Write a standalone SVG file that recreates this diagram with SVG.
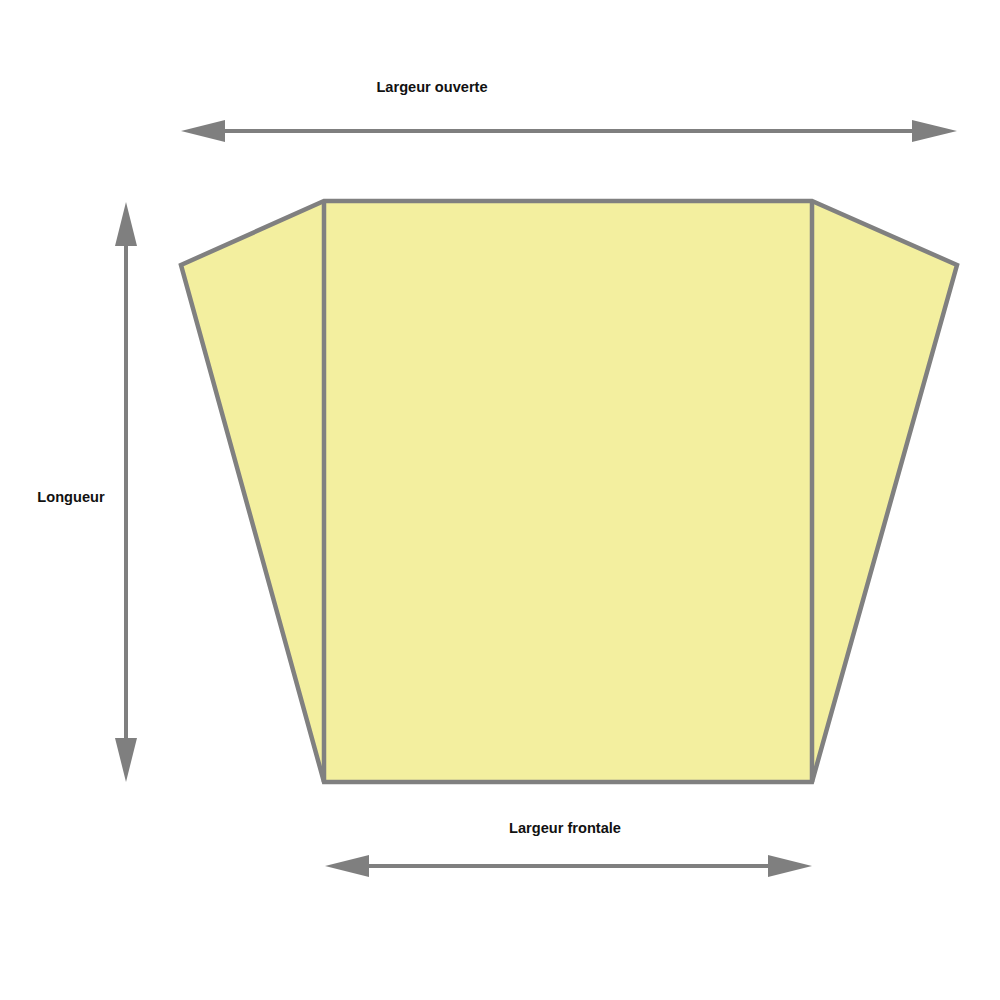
<svg xmlns="http://www.w3.org/2000/svg" width="1000" height="1000" viewBox="0 0 1000 1000">
<style>
.lbl{font-family:"Liberation Sans",Arial,sans-serif;font-weight:bold;font-size:14.6px;fill:#111}
.panel{fill:#f3ef9f;stroke:#808080;stroke-width:4.5;stroke-linejoin:miter}
.dim{stroke:#7f7f7f;stroke-width:4;fill:none}
.head{fill:#7f7f7f}
</style>
<rect width="1000" height="1000" fill="#fff"/>
<g id="shape">
<polygon class="panel" points="324,201 812,201 957,265 812,782 324,782 181,265"/>
<line class="panel" x1="324" y1="201" x2="324" y2="782"/>
<line class="panel" x1="812" y1="201" x2="812" y2="782"/>
</g>
<g id="connectors">
<line class="dim" x1="215" y1="131" x2="922" y2="131"/>
<polygon class="head" points="181,131 225,120 225,142"/>
<polygon class="head" points="957,131 912,120 912,142"/>
<line class="dim" x1="126" y1="235" x2="126" y2="748"/>
<polygon class="head" points="126,202 115,246 137,246"/>
<polygon class="head" points="126,782 115,738 137,738"/>
<line class="dim" x1="358" y1="866" x2="780" y2="866"/>
<polygon class="head" points="325,866 369,855 369,877"/>
<polygon class="head" points="812,866 768,855 768,877"/>
</g>
<g id="label-open"><text class="lbl" x="432" y="92" text-anchor="middle">Largeur ouverte</text></g>
<g id="label-length"><text class="lbl" x="71" y="502" text-anchor="middle">Longueur</text></g>
<g id="label-front"><text class="lbl" x="565" y="833" text-anchor="middle">Largeur frontale</text></g>
</svg>
